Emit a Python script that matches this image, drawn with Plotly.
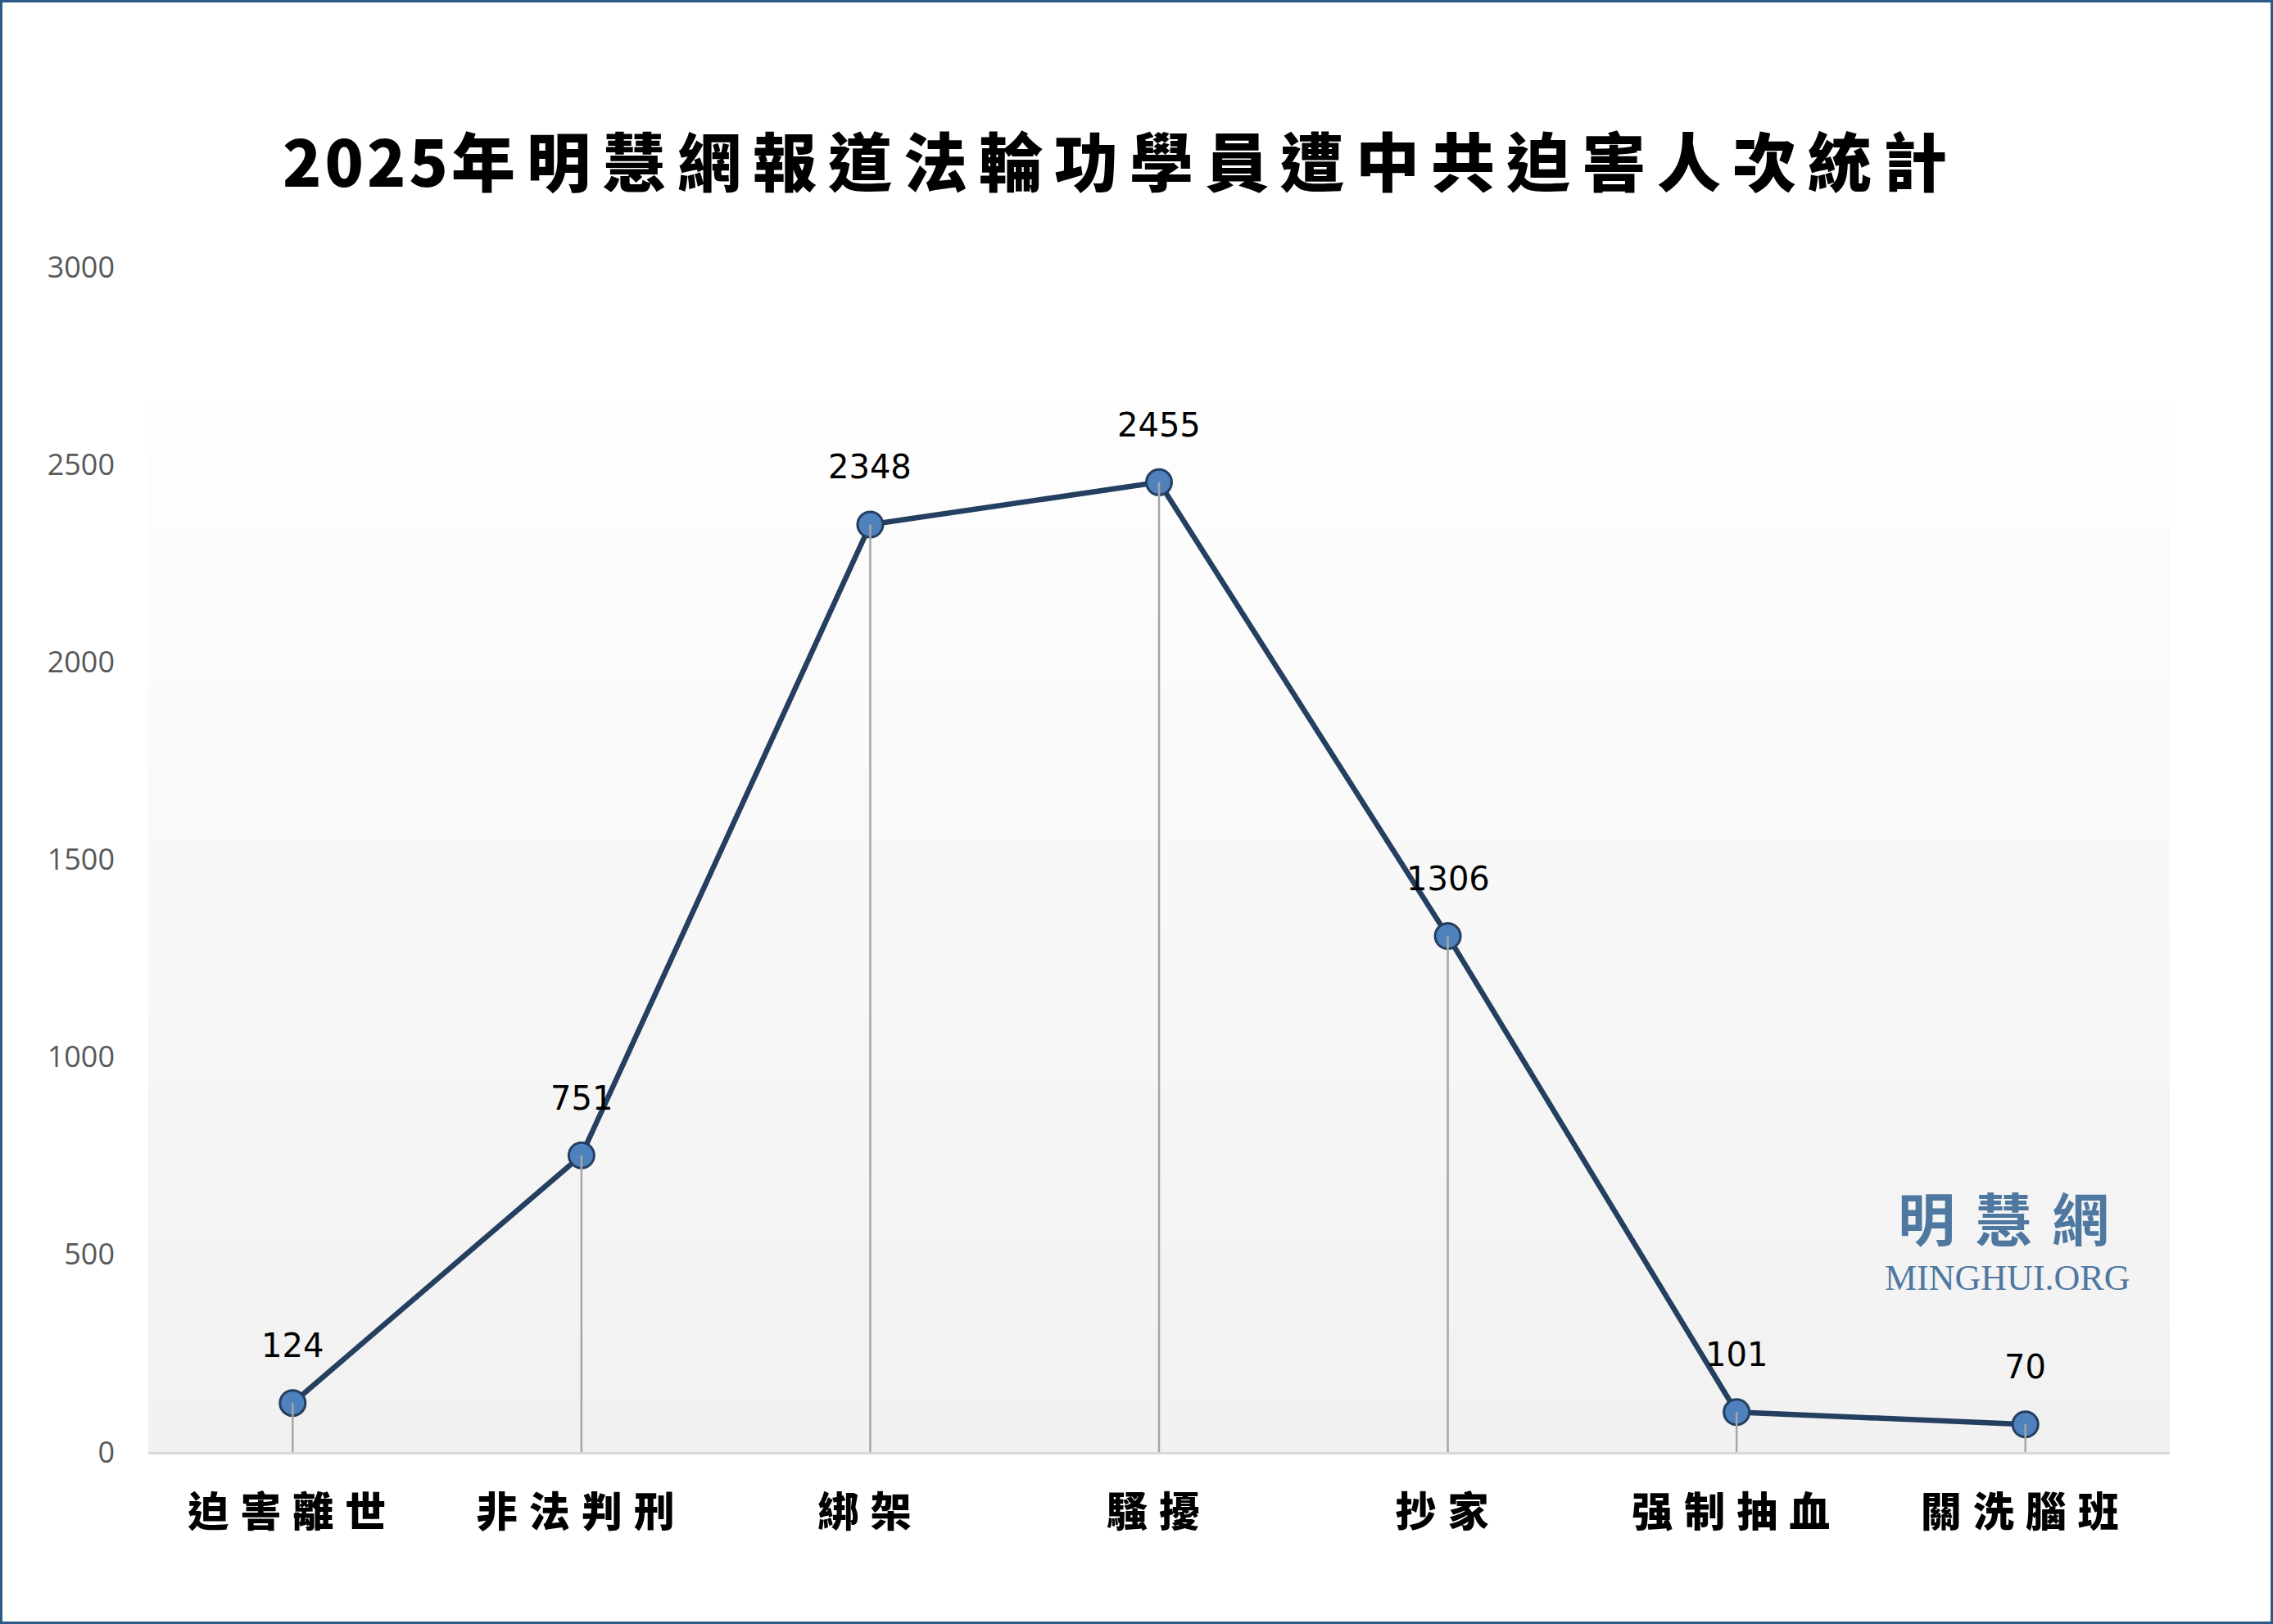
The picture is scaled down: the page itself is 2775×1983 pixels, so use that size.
import plotly.graph_objects as go

# ---- data ----
categories = ["迫害離世", "非法判刑", "綁架", "騷擾", "抄家", "强制抽血", "關洗腦班"]
values = [124, 751, 2348, 2455, 1306, 101, 70]
y_ticks = [0, 500, 1000, 1500, 2000, 2500, 3000]
title_year = "2025"
title_rest = "年明慧網報道法輪功學員遭中共迫害人次統計"
watermark_cn = "明慧網"
watermark_en = "MINGHUI.ORG"

W, H = 2775, 1983
ML, MR, MT, MB = 181, 126, 326, 210
plot_w = W - ML - MR
plot_h = H - MT - MB

CJK = "Noto Sans CJK TC"

fig = go.Figure()

# main series
fig.add_trace(go.Scatter(
    x=categories, y=values, mode="lines+markers",
    line=dict(color="#243f60", width=6.5),
    marker=dict(size=31, color="#4f81bd", line=dict(color="#243f60", width=3)),
    hoverinfo="x+y", showlegend=False,
))

# drop lines (drawn over markers, as in the reference)
dx, dy = [], []
for c, v in zip(categories, values):
    dx += [c, c, None]
    dy += [v, 0, None]
fig.add_trace(go.Scatter(
    x=dx, y=dy, mode="lines", line=dict(color="#a6a6a6", width=2.5),
    hoverinfo="skip", showlegend=False,
))

# data labels
for c, v in zip(categories, values):
    fig.add_annotation(
        x=c, y=v, text=str(v), showarrow=False, yshift=70,
        font=dict(family="DejaVu Sans", size=40, color="#000000"),
        xanchor="center", yanchor="middle",
    )

# plot-area gradient background (white at top to light grey at bottom)
top_frac = 1 - (493 - MT) / plot_h
n = 60
for i in range(n):
    y0 = top_frac * i / n
    y1 = top_frac * (i + 1) / n
    t = i / (n - 1)  # 0 bottom -> 1 top
    g = int(round(241 + (254 - 241) * t))
    col = f"rgb({g},{g},{g})"
    fig.add_shape(type="rect", xref="paper", yref="paper",
                  x0=0, x1=1, y0=y0, y1=y1 + 0.0005,
                  fillcolor=col, line=dict(width=0), layer="below")

# figure border
bx0 = -(ML - 1.5) / plot_w
bx1 = 1 + (MR - 1.5) / plot_w
by0 = -(MB - 1.5) / plot_h
by1 = 1 + (MT - 1.5) / plot_h
fig.add_shape(type="rect", xref="paper", yref="paper",
              x0=bx0, x1=bx1, y0=by0, y1=by1,
              line=dict(color="#2b5a86", width=3), fillcolor="rgba(0,0,0,0)",
              layer="above")

# watermark
fig.add_annotation(
    xref="paper", yref="paper", x=(2458 - ML) / plot_w, y=(H - MB - 1485) / plot_h,
    text=f"<span style='letter-spacing:24px'>{watermark_cn}</span>",
    showarrow=False, xanchor="center", yanchor="middle",
    font=dict(family=CJK, size=70, color="#4f78a0", weight=700),
)
fig.add_annotation(
    xref="paper", yref="paper", x=(2450 - ML) / plot_w, y=(H - MB - 1560) / plot_h,
    text=watermark_en, showarrow=False, xanchor="center", yanchor="middle",
    font=dict(family="Liberation Serif", size=44, color="#4f78a0"),
)

fig.update_layout(
    width=W, height=H,
    margin=dict(l=ML, r=MR, t=MT, b=MB, pad=0),
    paper_bgcolor="white", plot_bgcolor="white",
    title=dict(
        text=(f"<span style='letter-spacing:4px'>{title_year}</span>"
              f"<span style='letter-spacing:14px'>{title_rest}</span>"),
        xref="container", yref="container",
        x=1368 / W, y=1 - 201 / H, xanchor="center", yanchor="middle",
        font=dict(family=CJK, size=78, color="#000000", weight=900),
    ),
    xaxis=dict(
        type="category", categoryorder="array", categoryarray=categories,
        range=[-0.5, len(categories) - 0.5],
        tickmode="array", tickvals=categories,
        ticktext=[f"<span style='letter-spacing:14px'>{c}</span>" for c in categories],
        tickfont=dict(family=CJK, size=50, color="#000000", weight=900),
        showline=True, linecolor="#d9d9d9", linewidth=3,
        showgrid=False, zeroline=False, ticks="", ticklabelstandoff=28,
    ),
    yaxis=dict(
        range=[0, 3000], tickmode="array", tickvals=y_ticks,
        ticktext=[str(t) for t in y_ticks],
        tickfont=dict(family="Open Sans", size=36, color="#595959"),
        showline=False, showgrid=False, zeroline=False, ticks="",
        ticklabelstandoff=40,
    ),
)

fig.write_html("out.html", config={"displayModeBar": False},
               post_script="document.body.style.margin='0';")
